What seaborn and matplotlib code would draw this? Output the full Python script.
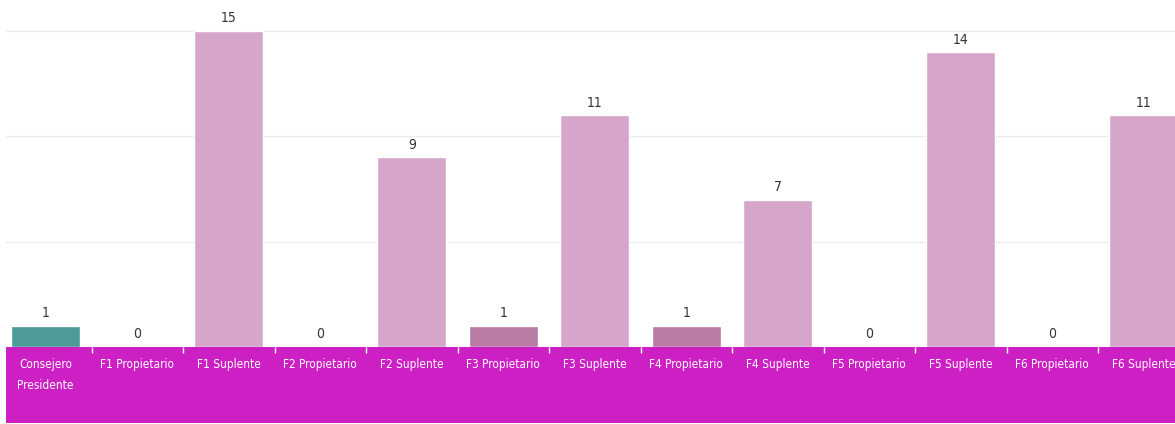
import numpy as np
import pandas as pd
import matplotlib
matplotlib.use("Agg")
import matplotlib.pyplot as plt
import seaborn as sns
from matplotlib.patches import Rectangle

categories = ["Consejero\nPresidente", "F1 Propietario", "F1 Suplente", "F2 Propietario",
              "F2 Suplente", "F3 Propietario", "F3 Suplente", "F4 Propietario",
              "F4 Suplente", "F5 Propietario", "F5 Suplente", "F6 Propietario", "F6 Suplente"]
values = [1, 0, 15, 0, 9, 1, 11, 1, 7, 0, 14, 0, 11]
bar_colors = ["#4E9A96", "#D5A6C9", "#D5A6C9", "#D5A6C9", "#D5A6C9", "#B77BA4", "#D5A6C9",
              "#B77BA4", "#D5A6C9", "#D5A6C9", "#D5A6C9", "#D5A6C9", "#D5A6C9"]

sns.set_style("white")
plt.rcParams['font.family'] = ['DejaVu Sans']
plt.rcParams['font.stretch'] = 'condensed'

W, H = 1175, 424
fig = plt.figure(figsize=(W / 100, H / 100), dpi=100)
ax = fig.add_axes([6 / W, 77 / H, 1 - 6 / W, 1 - 77 / H])
ax.set_zorder(2)
ax.patch.set_alpha(0)

# magenta band under the axis
fig.patches.append(Rectangle((6 / W, 1 / H), 1 - 6 / W, 76 / H, transform=fig.transFigure,
                             facecolor="#CC1FC4", edgecolor="none", zorder=-1))

df = pd.DataFrame({"cat": categories, "val": values})
sns.barplot(data=df, x="cat", y="val", hue="cat", palette=bar_colors, legend=False,
            saturation=1, width=0.75, ax=ax, zorder=3)

step = 91.5
ax.set_xlim(-0.5 + 6 / step, -0.5 + W / step)
ax.set_ylim(0, 15 + 31 / (316 / 15))

for c in ax.containers:
    ax.bar_label(c, padding=4, fontsize=10, color="#333333")

ax.set_yticks([5, 10, 15])
ax.set_yticklabels([])
ax.tick_params(axis="y", length=0)
ax.grid(axis="y", color="#EBEBEB", linewidth=1, zorder=0)
for s in ax.spines.values():
    s.set_visible(False)

ax.set_xticks(np.arange(len(categories)))
ax.set_xticklabels(categories, color="white", fontsize=8.5, linespacing=1.8)
ax.tick_params(axis="x", bottom=True, length=0, pad=8)
ax.set_xticks(np.arange(len(categories) - 1) + 0.5, minor=True)
ax.tick_params(axis="x", which="minor", bottom=True, length=4, color="white", width=1)
ax.set_xlabel("")
ax.set_ylabel("")

fig.savefig("out.png", dpi=100)
